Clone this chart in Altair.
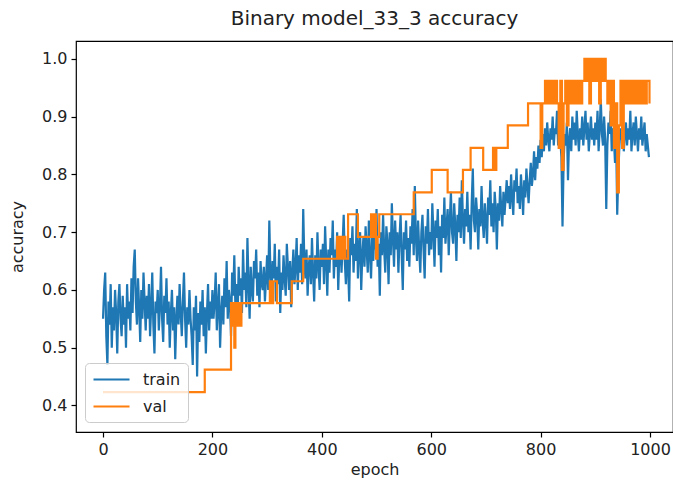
import altair as alt
import pandas as pd

# ---- data ----
series_names = ["train", "val"]
series_colors = ["#1f77b4", "#ff7f0e"]

# training accuracy, read every 2nd epoch (0, 2, ..., 998)
train_acc = [
    # 0-198
    0.55, 0.60, 0.63, 0.52, 0.47, 0.58, 0.54, 0.61, 0.50, 0.57,
    0.53, 0.60, 0.56, 0.49, 0.58, 0.61, 0.55, 0.52, 0.59, 0.54,
    0.57, 0.50, 0.61, 0.55, 0.58, 0.53, 0.62, 0.56, 0.64, 0.67,
    0.58, 0.54, 0.62, 0.57, 0.51, 0.60, 0.55, 0.63, 0.58, 0.53,
    0.59, 0.55, 0.61, 0.52, 0.57, 0.63, 0.54, 0.49, 0.58, 0.56,
    0.60, 0.53, 0.57, 0.64, 0.55, 0.51, 0.59, 0.56, 0.62, 0.54,
    0.58, 0.50, 0.56, 0.60, 0.53, 0.57, 0.48, 0.55, 0.59, 0.54,
    0.61, 0.56, 0.52, 0.58, 0.63, 0.55, 0.50, 0.57, 0.54, 0.60,
    0.55, 0.52, 0.47, 0.57, 0.53, 0.59, 0.45, 0.56, 0.51, 0.58,
    0.54, 0.60, 0.52, 0.57, 0.49, 0.56, 0.61, 0.53, 0.58, 0.55,
    # 200-298
    0.60, 0.55, 0.58, 0.63, 0.53, 0.57, 0.61, 0.50, 0.56, 0.59,
    0.54, 0.62, 0.57, 0.65, 0.55, 0.60, 0.58, 0.52, 0.63, 0.59,
    0.66, 0.57, 0.61, 0.55, 0.64, 0.59, 0.62, 0.56, 0.67, 0.60,
    0.63, 0.57, 0.69, 0.61, 0.55, 0.64, 0.60, 0.58, 0.65, 0.62,
    0.67, 0.59, 0.63, 0.57, 0.65, 0.61, 0.60, 0.64, 0.58, 0.62,
    # 300-398
    0.66, 0.60, 0.72, 0.63, 0.59, 0.65, 0.62, 0.68, 0.58, 0.64,
    0.61, 0.67, 0.56, 0.63, 0.60, 0.66, 0.62, 0.59, 0.68, 0.64,
    0.60, 0.65, 0.57, 0.63, 0.67, 0.61, 0.64, 0.69, 0.60, 0.66,
    0.63, 0.68, 0.61, 0.74, 0.65, 0.62, 0.67, 0.59, 0.64, 0.66,
    0.61, 0.69, 0.63, 0.58, 0.66, 0.62, 0.70, 0.64, 0.60, 0.67,
    # 400-498
    0.64, 0.68, 0.61, 0.71, 0.65, 0.59, 0.67, 0.63, 0.69, 0.66,
    0.72, 0.62, 0.67, 0.64, 0.70, 0.60, 0.66, 0.69, 0.63, 0.68,
    0.73, 0.65, 0.61, 0.67, 0.64, 0.58, 0.69, 0.66, 0.71, 0.63,
    0.68, 0.65, 0.74, 0.62, 0.67, 0.70, 0.60, 0.66, 0.69, 0.64,
    0.71, 0.67, 0.63, 0.72, 0.66, 0.62, 0.69, 0.65, 0.70, 0.67,
    # 500-598
    0.74, 0.64, 0.68, 0.59, 0.70, 0.66, 0.73, 0.67, 0.63, 0.71,
    0.68, 0.61, 0.70, 0.66, 0.75, 0.69, 0.64, 0.72, 0.67, 0.70,
    0.63, 0.69, 0.73, 0.66, 0.60, 0.70, 0.67, 0.72, 0.65, 0.69,
    0.64, 0.71, 0.68, 0.74, 0.66, 0.78, 0.69, 0.65, 0.72, 0.67,
    0.63, 0.70, 0.73, 0.67, 0.62, 0.71, 0.68, 0.74, 0.66, 0.70,
    # 600-698
    0.67, 0.75, 0.70, 0.64, 0.72, 0.69, 0.74, 0.66, 0.71, 0.63,
    0.73, 0.69, 0.76, 0.68, 0.71, 0.74, 0.66, 0.72, 0.77, 0.70,
    0.68, 0.75, 0.71, 0.65, 0.73, 0.70, 0.76, 0.69, 0.79, 0.72,
    0.68, 0.74, 0.71, 0.77, 0.70, 0.73, 0.67, 0.75, 0.81, 0.72,
    0.70, 0.76, 0.73, 0.67, 0.74, 0.71, 0.78, 0.72, 0.69, 0.75,
    # 700-798
    0.72, 0.68, 0.76, 0.73, 0.79, 0.71, 0.75, 0.70, 0.77, 0.74,
    0.67, 0.75, 0.72, 0.78, 0.74, 0.71, 0.77, 0.73, 0.76, 0.79,
    0.75, 0.78, 0.74, 0.80, 0.76, 0.73, 0.79, 0.77, 0.81, 0.75,
    0.78, 0.74, 0.80, 0.77, 0.73, 0.79, 0.76, 0.81, 0.78, 0.75,
    0.79, 0.82, 0.78, 0.80, 0.84, 0.79, 0.83, 0.81, 0.85, 0.82,
    # 800-898
    0.86, 0.83, 0.87, 0.84, 0.88, 0.85, 0.89, 0.86, 0.84, 0.88,
    0.86, 0.90, 0.85, 0.88, 0.87, 0.91, 0.85, 0.89, 0.86, 0.83,
    0.71, 0.82, 0.87, 0.85, 0.89, 0.79, 0.86, 0.88, 0.84, 0.90,
    0.86, 0.89, 0.85, 0.91, 0.87, 0.84, 0.88, 0.86, 0.90, 0.85,
    0.88, 0.91, 0.86, 0.89, 0.84, 0.87, 0.90, 0.86, 0.88, 0.85,
    # 900-998
    0.89, 0.86, 0.91, 0.84, 0.88, 0.93, 0.87, 0.85, 0.90, 0.86,
    0.74, 0.85, 0.89, 0.87, 0.91, 0.84, 0.88, 0.86, 0.82, 0.87,
    0.73, 0.80, 0.85, 0.88, 0.86, 0.90, 0.84, 0.87, 0.89, 0.85,
    0.88, 0.86, 0.91, 0.84, 0.87, 0.89, 0.85, 0.90, 0.87, 0.84,
    0.88, 0.86, 0.90, 0.85, 0.87, 0.89, 0.84, 0.87, 0.85, 0.83,
]
train_epoch = [2 * i for i in range(len(train_acc))]

# validation accuracy: epoch at which each level starts (step function)
val_epoch = [
    0, 186, 234, 236, 238, 240, 242, 244, 247, 250, 253, 305, 308, 311, 318, 345,
    366, 428, 431, 434, 437, 440, 443, 448, 466, 490, 493, 496, 499, 502, 505,
    568, 601, 630, 658, 672, 695, 713, 716, 719, 740, 777, 800, 803, 808,
    812, 815, 818, 821, 824, 827, 830, 833, 836, 839, 842, 845, 848, 851, 854,
    857, 860, 863, 866, 869, 872, 876, 880, 883, 886, 889, 892, 895, 898, 901,
    904, 907, 910, 913, 916, 919, 922, 925, 928, 931, 934, 937, 940, 943, 946,
    949, 952, 955, 958, 961, 964, 967, 970, 973, 976, 979, 982, 985, 988, 991,
    994, 999,
]
val_acc = [
    0.423, 0.462, 0.577, 0.538, 0.577, 0.500, 0.577, 0.538, 0.577, 0.538, 0.577, 0.615, 0.577, 0.615, 0.577, 0.615,
    0.654, 0.692, 0.654, 0.692, 0.654, 0.692, 0.654, 0.731, 0.692, 0.731, 0.692, 0.731, 0.654, 0.692, 0.731,
    0.769, 0.808, 0.769, 0.808, 0.846, 0.808, 0.846, 0.808, 0.846, 0.885, 0.923, 0.846, 0.923, 0.962,
    0.923, 0.962, 0.923, 0.962, 0.923, 0.962, 0.923, 0.846, 0.962, 0.808, 0.923, 0.962, 0.885, 0.962, 0.923,
    0.962, 0.923, 0.962, 0.923, 0.962, 0.923, 0.962, 1.000, 0.962, 1.000, 0.923, 1.000, 0.962, 1.000, 0.962,
    1.000, 0.923, 1.000, 0.962, 1.000, 0.962, 0.923, 0.962, 0.885, 0.962, 0.846, 0.923, 0.769, 0.885, 0.962,
    0.846, 0.962, 0.923, 0.962, 0.923, 0.962, 0.923, 0.962, 0.923, 0.962, 0.923, 0.962, 0.923, 0.962, 0.923,
    0.962, 0.923,
]

x_ticks = [0, 200, 400, 600, 800, 1000]
y_ticks = [0.4, 0.5, 0.6, 0.7, 0.8, 0.9, 1.0]

df_train = pd.DataFrame({"epoch": train_epoch, "accuracy": train_acc, "series": series_names[0]})
df_val = pd.DataFrame({"epoch": val_epoch, "accuracy": val_acc, "series": series_names[1]})

FONT = "DejaVu Sans"
TXT = "#222222"

x_enc = alt.X(
    "epoch:Q",
    scale=alt.Scale(domain=[-49.4, 1042.0], nice=False, zero=False),
    axis=alt.Axis(values=x_ticks, title="epoch", format="d"),
)
y_enc = alt.Y(
    "accuracy:Q",
    scale=alt.Scale(domain=[0.354, 1.031], nice=False, zero=False),
    axis=alt.Axis(values=y_ticks, title="accuracy", format=".1f"),
)
color_enc = alt.Color(
    "series:N",
    scale=alt.Scale(domain=series_names, range=series_colors),
    legend=alt.Legend(
        title=None,
        orient="none",
        legendX=9,
        legendY=322,
        symbolType="M-2.25,0H2.25",
        symbolSize=256,
        symbolStrokeWidth=2.2,
        symbolOffset=10,
        labelFont=FONT,
        labelFontSize=16,
        labelColor=TXT,
        labelOffset=22,
        padding=7,
        rowPadding=9,
        strokeColor="#cccccc",
        fillColor="rgba(255,255,255,0.8)",
        cornerRadius=4,
    ),
)

train = alt.Chart(df_train).mark_line(strokeWidth=2.2, clip=True).encode(
    x=x_enc, y=y_enc, color=color_enc
)
val = alt.Chart(df_val).mark_line(strokeWidth=2.2, interpolate="step-after", clip=True).encode(
    x=x_enc, y=y_enc, color=color_enc
)

chart = (
    alt.layer(train, val)
    .properties(
        width=597,
        height=391,
        title=alt.TitleParams(
            "Binary model_33_3 accuracy",
            font=FONT,
            fontSize=20,
            fontWeight="normal",
            color=TXT,
            anchor="middle",
            offset=12,
        ),
        autosize=alt.AutoSizeParams(type="none"),
        padding={"left": 76, "top": 41, "right": 0, "bottom": 57},
    )
    .configure_view(stroke="#000000", strokeWidth=1.2)
    .configure_axis(
        grid=False,
        domain=False,
        ticks=True,
        tickColor="#000000",
        tickSize=5,
        tickWidth=1.2,
        labelFont=FONT,
        labelFontSize=16,
        labelColor=TXT,
        labelPadding=4,
        titleFont=FONT,
        titleFontSize=16,
        titleFontWeight="normal",
        titleColor=TXT,
    )
    .configure_axisY(titlePadding=16)
    .configure_axisX(titlePadding=4)
)

chart.save("out.html", embed_options={"renderer": "svg", "actions": False})
